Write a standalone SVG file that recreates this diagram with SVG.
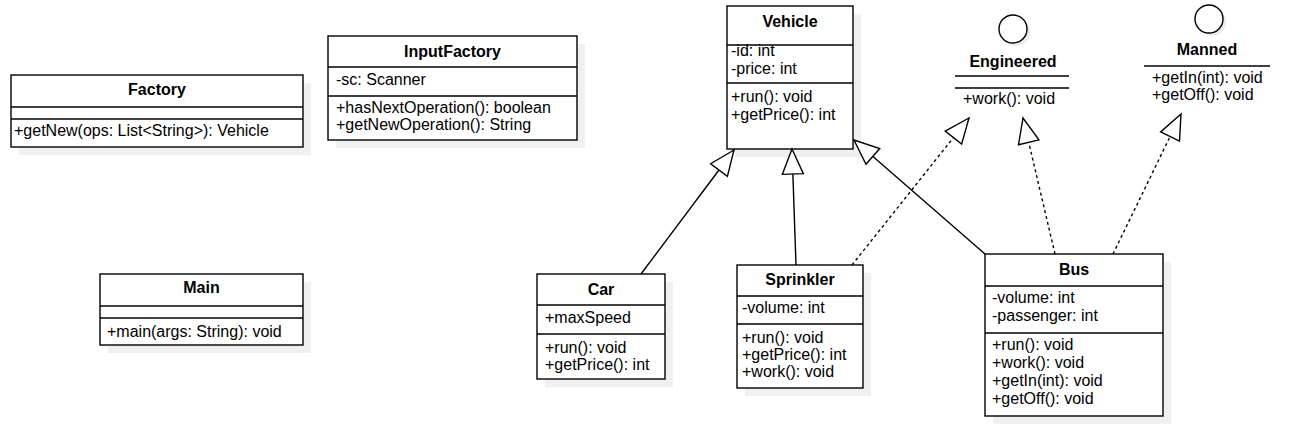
<svg xmlns="http://www.w3.org/2000/svg" width="1312" height="442" viewBox="0 0 1312 442">
<style>
text{font-family:"Liberation Sans",Arial,sans-serif;font-size:16px;fill:#000}
.t{font-weight:bold;text-anchor:middle}
.c{text-anchor:middle}
.box{fill:#fff;stroke:#000;stroke-width:1.4}
.sh{fill:#f0f0f0;stroke:none}
.ln{stroke:#000;stroke-width:1.4;fill:none}
.gen{stroke:#000;stroke-width:1.4;fill:none;marker-end:url(#tri)}
.real{stroke:#000;stroke-width:1.4;fill:none;stroke-dasharray:3 3;marker-end:url(#tri)}
</style>
<defs>
<marker id="tri" markerUnits="userSpaceOnUse" viewBox="-27 -12 29 24" markerWidth="29" markerHeight="24" refX="0" refY="0" orient="auto">
<path d="M0,0 L-25,-10.5 L-25,10.5 Z" fill="#fff" stroke="#000" stroke-width="1.4" stroke-dasharray="none"/>
</marker>
</defs>
<rect width="1312" height="442" fill="#fff"/>

<g id="Factory">
<rect class="sh" x="19" y="83" width="292" height="72"/>
<rect class="box" x="11" y="75" width="292" height="72"/>
<line class="ln" x1="11" y1="107" x2="303" y2="107"/>
<line class="ln" x1="11" y1="119" x2="303" y2="119"/>
<text class="t" x="157" y="95">Factory</text>
<text x="14" y="136">+getNew(ops: List&lt;String&gt;): Vehicle</text>
</g>

<g id="InputFactory">
<rect class="sh" x="336" y="44" width="249" height="104"/>
<rect class="box" x="328" y="36" width="249" height="104"/>
<line class="ln" x1="328" y1="67" x2="577" y2="67"/>
<line class="ln" x1="328" y1="96" x2="577" y2="96"/>
<text class="t" x="452.5" y="57">InputFactory</text>
<text x="336" y="85">-sc: Scanner</text>
<text x="336" y="113">+hasNextOperation(): boolean</text>
<text x="336" y="130">+getNewOperation(): String</text>
</g>

<g id="Main">
<rect class="sh" x="108" y="282" width="203" height="71"/>
<rect class="box" x="100" y="274" width="203" height="71"/>
<line class="ln" x1="100" y1="306" x2="303" y2="306"/>
<line class="ln" x1="100" y1="318" x2="303" y2="318"/>
<text class="t" x="201.5" y="293">Main</text>
<text x="107" y="337">+main(args: String): void</text>
</g>

<g id="Vehicle">
<rect class="sh" x="735" y="14" width="126" height="143"/>
<rect class="box" x="727" y="6" width="126" height="143"/>
<line class="ln" x1="727" y1="45" x2="853" y2="45"/>
<line class="ln" x1="727" y1="83" x2="853" y2="83"/>
<text class="t" x="790" y="27">Vehicle</text>
<text x="731" y="56">-id: int</text>
<text x="731" y="74">-price: int</text>
<text x="731" y="102">+run(): void</text>
<text x="731" y="120">+getPrice(): int</text>
</g>

<g id="Engineered">
<circle cx="1016" cy="32" r="14" fill="#ececec"/>
<circle cx="1013" cy="29" r="14" fill="#fff" stroke="#000" stroke-width="1.4"/>
<text class="t" x="1013" y="67">Engineered</text>
<line class="ln" x1="955" y1="76" x2="1069" y2="76"/>
<line class="ln" x1="955" y1="88" x2="1069" y2="88"/>
<text x="963" y="104">+work(): void</text>
</g>

<g id="Manned">
<circle cx="1212" cy="22" r="14" fill="#ececec"/>
<circle cx="1209" cy="19" r="14" fill="#fff" stroke="#000" stroke-width="1.4"/>
<text class="t" x="1207" y="55">Manned</text>
<line class="ln" x1="1144" y1="66" x2="1270" y2="66"/>
<text x="1152" y="83">+getIn(int): void</text>
<text x="1152" y="100">+getOff(): void</text>
</g>

<g id="Car">
<rect class="sh" x="545" y="282" width="128" height="105"/>
<rect class="box" x="537" y="274" width="128" height="105"/>
<line class="ln" x1="537" y1="305" x2="665" y2="305"/>
<line class="ln" x1="537" y1="334" x2="665" y2="334"/>
<text class="t" x="601" y="295">Car</text>
<text x="545" y="323">+maxSpeed</text>
<text x="545" y="353">+run(): void</text>
<text x="545" y="370">+getPrice(): int</text>
</g>

<g id="Sprinkler">
<rect class="sh" x="745" y="273" width="126" height="123"/>
<rect class="box" x="737" y="265" width="126" height="123"/>
<line class="ln" x1="737" y1="296" x2="863" y2="296"/>
<line class="ln" x1="737" y1="324" x2="863" y2="324"/>
<text class="t" x="800" y="285">Sprinkler</text>
<text x="742" y="313">-volume: int</text>
<text x="742" y="343">+run(): void</text>
<text x="742" y="360">+getPrice(): int</text>
<text x="742" y="377">+work(): void</text>
</g>

<g id="Bus">
<rect class="sh" x="993" y="262" width="178" height="162"/>
<rect class="box" x="985" y="254" width="178" height="162"/>
<line class="ln" x1="985" y1="286" x2="1163" y2="286"/>
<line class="ln" x1="985" y1="333" x2="1163" y2="333"/>
<text class="t" x="1074" y="275">Bus</text>
<text x="992" y="303">-volume: int</text>
<text x="992" y="321">-passenger: int</text>
<text x="992" y="350">+run(): void</text>
<text x="992" y="368">+work(): void</text>
<text x="992" y="386">+getIn(int): void</text>
<text x="992" y="404">+getOff(): void</text>
</g>

<g id="connectors">
<line class="gen" x1="641" y1="274" x2="734" y2="150"/>
<line class="gen" x1="796" y1="265" x2="792" y2="149"/>
<line class="gen" x1="985" y1="254" x2="854" y2="140"/>
<line class="real" x1="852" y1="265" x2="969" y2="118"/>
<line class="real" x1="1055" y1="254" x2="1023" y2="118"/>
<line class="real" x1="1113" y1="254" x2="1181" y2="114"/>
</g>
</svg>
